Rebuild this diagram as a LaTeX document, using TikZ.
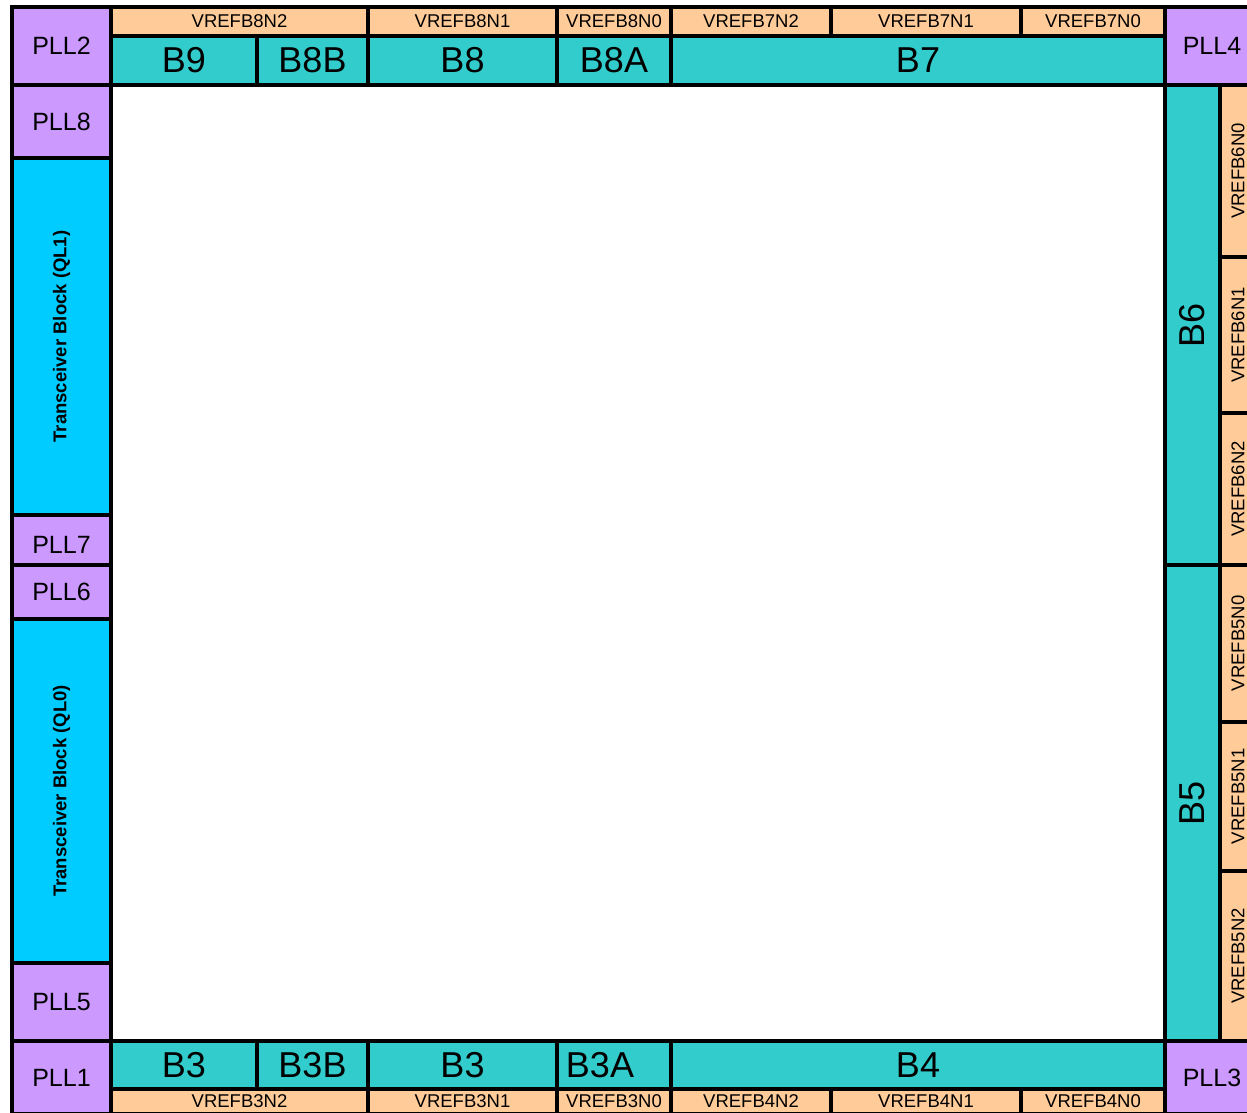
\documentclass[tikz,border=0pt]{standalone}
\usepackage{fontspec}
\setmainfont{Liberation Sans}
\definecolor{pllc}{HTML}{CC99FF}
\definecolor{bankc}{HTML}{33CCCC}
\definecolor{vrefc}{HTML}{FFCC99}
\definecolor{xcvrc}{HTML}{00CCFF}
\tikzset{
 blk/.style={draw=black, line width=3.5pt, inner sep=0pt, outer sep=0pt, anchor=center},
 pllfont/.style={font=\fontsize{25}{30}\selectfont},
 pll/.style={blk, fill=pllc, pllfont},
 bank/.style={blk, fill=bankc, font=\fontsize{36}{40}\selectfont},
 vref/.style={blk, fill=vrefc, font=\fontsize{18.5}{22}\selectfont},
 xcvr/.style={blk, fill=xcvrc, font=\fontsize{18.5}{22}\selectfont\bfseries},
 core/.style={blk, fill=white},
}
\newcommand\mkblk[7]{%
 \pgfmathsetmacro\blkw{#5-#3}%
 \pgfmathsetmacro\blkh{#6-#4}%
 \node[#2, minimum width=\blkw pt, minimum height=\blkh pt] (#1) at ({(#3+#5)/2},{(#4+#6)/2}) {#7};}
\begin{document}
\begin{tikzpicture}[x=1pt,y=-1pt]
\useasboundingbox (0,0) rectangle (1247,1113);
\clip (0,0) rectangle (1247,1113);
\fill[white] (0,0) rectangle (1247,1113);
% core
\mkblk{core}{core}{111}{85}{1165}{1041}{}
% top row
\mkblk{pll2}{pll}{12}{7}{111}{85}{PLL2}
\mkblk{v8n2}{vref}{111}{7}{368}{36}{VREFB8N2}
\mkblk{v8n1}{vref}{368}{7}{557}{36}{VREFB8N1}
\mkblk{v8n0}{vref}{557}{7}{671}{36}{VREFB8N0}
\mkblk{v7n2}{vref}{671}{7}{831}{36}{VREFB7N2}
\mkblk{v7n1}{vref}{831}{7}{1021}{36}{VREFB7N1}
\mkblk{v7n0}{vref}{1021}{7}{1165}{36}{VREFB7N0}
\mkblk{b9}{bank}{111}{36}{257}{85}{B9}
\mkblk{b8b}{bank}{257}{36}{368}{85}{B8B}
\mkblk{b8}{bank}{368}{36}{557}{85}{B8}
\mkblk{b8a}{bank}{557}{36}{671}{85}{B8A}
\mkblk{b7}{bank}{671}{36}{1165}{85}{B7}
\mkblk{pll4}{pll}{1165}{7}{1259}{85}{PLL4}
% left column
\mkblk{pll8}{pll}{12}{85}{111}{158}{PLL8}
\mkblk{ql1}{xcvr}{12}{158}{111}{515}{\rotatebox{90}{Transceiver Block (QL1)}}
\mkblk{pll7}{pll}{12}{515}{111}{565}{}
\node[pllfont] (pll7t) at ([yshift=-5pt]pll7.center) {PLL7};
\mkblk{pll6}{pll}{12}{565}{111}{619}{PLL6}
\mkblk{ql0}{xcvr}{12}{619}{111}{963}{\rotatebox{90}{Transceiver Block (QL0)}}
\mkblk{pll5}{pll}{12}{963}{111}{1041}{PLL5}
% right column
\mkblk{b6}{bank}{1165}{85}{1220}{565}{\rotatebox{90}{B6}}
\mkblk{b5}{bank}{1165}{565}{1220}{1041}{\rotatebox{90}{B5}}
\mkblk{v6n0}{vref}{1220}{85}{1256}{257}{\rotatebox{90}{VREFB6N0}}
\mkblk{v6n1}{vref}{1220}{257}{1256}{413}{\rotatebox{90}{VREFB6N1}}
\mkblk{v6n2}{vref}{1220}{413}{1256}{565}{\rotatebox{90}{VREFB6N2}}
\mkblk{v5n0}{vref}{1220}{565}{1256}{722}{\rotatebox{90}{VREFB5N0}}
\mkblk{v5n1}{vref}{1220}{722}{1256}{871}{\rotatebox{90}{VREFB5N1}}
\mkblk{v5n2}{vref}{1220}{871}{1256}{1041}{\rotatebox{90}{VREFB5N2}}
% bottom row
\mkblk{pll1}{pll}{12}{1041}{111}{1114}{PLL1}
\mkblk{b3l}{bank}{111}{1041}{257}{1089}{B3}
\mkblk{b3b}{bank}{257}{1041}{368}{1089}{B3B}
\mkblk{b3r}{bank}{368}{1041}{557}{1089}{B3}
\mkblk{b3a}{bank}{557}{1041}{671}{1089}{B3A\hspace*{28pt}}
\mkblk{b4}{bank}{671}{1041}{1165}{1089}{B4}
\mkblk{v3n2}{vref}{111}{1089}{368}{1114}{VREFB3N2}
\mkblk{v3n1}{vref}{368}{1089}{557}{1114}{VREFB3N1}
\mkblk{v3n0}{vref}{557}{1089}{671}{1114}{VREFB3N0}
\mkblk{v4n2}{vref}{671}{1089}{831}{1114}{VREFB4N2}
\mkblk{v4n1}{vref}{831}{1089}{1021}{1114}{VREFB4N1}
\mkblk{v4n0}{vref}{1021}{1089}{1165}{1114}{VREFB4N0}
\mkblk{pll3}{pll}{1165}{1041}{1259}{1114}{PLL3}
\end{tikzpicture}
\end{document}
